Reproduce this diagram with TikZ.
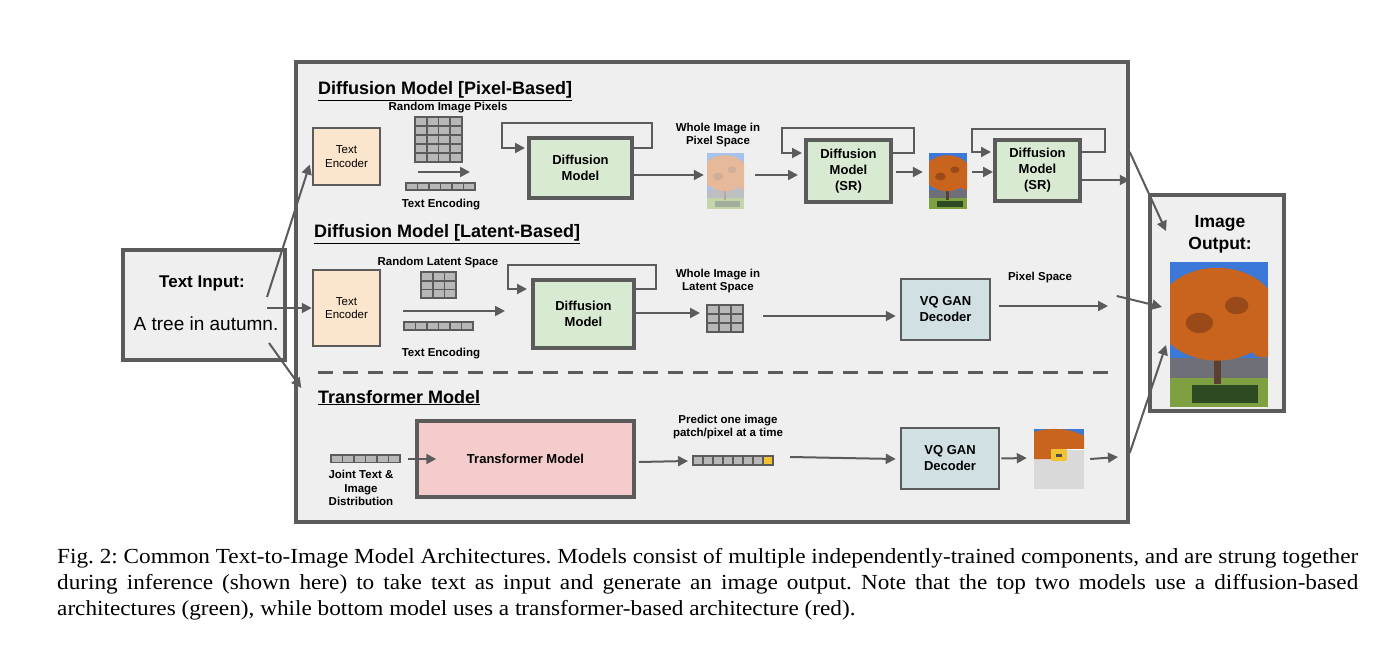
\documentclass[tikz,border=0pt]{standalone}
\usepackage{fontspec}
\setmainfont{Liberation Sans}
\newfontfamily\capfont[FakeStretch=1.08]{Liberation Serif}
\usetikzlibrary{arrows.meta,positioning}
\definecolor{edge}{HTML}{5B5B5B}
\definecolor{bgfill}{HTML}{EFEFEF}
\definecolor{peach}{HTML}{FCE5CD}
\definecolor{mintgreen}{HTML}{D9EAD3}
\definecolor{vqblue}{HTML}{D0E0E3}
\definecolor{rosered}{HTML}{F4CCCC}
\definecolor{cellgray}{HTML}{B7B7B7}
\definecolor{tokyellow}{HTML}{F1C232}
\definecolor{patchgray}{HTML}{D9D9D9}
\definecolor{skyblue}{HTML}{3C78D8}
\definecolor{leaforange}{HTML}{C8641E}
\definecolor{leafdark}{HTML}{9A4A18}
\definecolor{trunkbrown}{HTML}{5A4030}
\definecolor{roadgray}{HTML}{6F7077}
\definecolor{grassgreen}{HTML}{7FA040}
\definecolor{hedgegreen}{HTML}{2E4A22}

% grid of cells: x, y, cols, rows, cell w, cell h
\newcommand{\cellgrid}[6]{%
  \foreach \i in {1,...,#3}{\foreach \j in {1,...,#4}{%
    \filldraw[fill=cellgray, draw=edge, line width=1.6pt]
      ({#1+(\i-1)*#5},{#2+(\j-1)*#6}) rectangle ++(#5,#6);}}}

% photo of the tree: x, y, w, h, strength
\newcommand{\treepic}[5]{%
  \begin{scope}[shift={(#1,#2)}]
    \clip (0,0) rectangle (#3,#4);
    \fill[skyblue!#5!white] (0,0) rectangle (#3,#4);
    \fill[roadgray!#5!white] (0,{0.66*#4}) rectangle (#3,#4);
    \fill[grassgreen!#5!white] (0,{0.8*#4}) rectangle (#3,#4);
    \fill[trunkbrown!#5!white] ({0.45*#3},{0.5*#4}) rectangle ({0.52*#3},{0.84*#4});
    \fill[leaforange!#5!white] ({0.48*#3},{0.36*#4}) ellipse ({0.62*#3} and {0.32*#4});
    \fill[leaforange!#5!white] ({0.95*#3},{0.6*#4}) ellipse ({0.12*#3} and {0.06*#4});
    \fill[leafdark!#5!white] ({0.3*#3},{0.42*#4}) ellipse ({0.14*#3} and {0.07*#4});
    \fill[leafdark!#5!white] ({0.68*#3},{0.3*#4}) ellipse ({0.12*#3} and {0.06*#4});
    \fill[hedgegreen!#5!white] ({0.22*#3},{0.85*#4}) rectangle ({0.9*#3},{0.97*#4});
  \end{scope}}

\begin{document}
\begin{tikzpicture}[x=1pt, y=-1pt,
    arr/.style={-{Triangle[length=10pt,width=10pt]}, line width=2pt, draw=edge},
    every node/.append style={text=black, inner sep=0pt, align=center},
    lbl/.style={font=\bfseries\fontsize{11.5}{13.5}\selectfont},
    title/.style={anchor=base west, font=\bfseries\fontsize{18}{20}\selectfont},
    model/.style={draw=edge, line width=4pt, fill=mintgreen, font=\bfseries\fontsize{13}{16}\selectfont}]
  \tikzstyle{enc} = [draw=edge, line width=2.5pt, fill=peach, minimum width=67, font=\fontsize{11.5}{13.5}\selectfont]
  \tikzstyle{vq} = [draw=edge, line width=2.5pt, fill=vqblue, font=\bfseries\fontsize{13}{16}\selectfont]
  \useasboundingbox[fill=white] (0,0) rectangle (1396,652);

  % outer frames
  \node (frame) [draw=edge, line width=3.5pt, fill=bgfill, minimum width=832, minimum height=460] at (712,292) {};
  \node (textIn) [draw=edge, line width=4pt, fill=bgfill, minimum width=162, minimum height=110] at (204,305) {};
  \node (inTitle) [anchor=base, font=\bfseries\fontsize{17}{19}\selectfont] at (202,287) {Text Input:};
  \node (inText) [anchor=base, font=\fontsize{19}{21}\selectfont] at (206,330) {A tree in autumn.};
  \node (imgOut) [draw=edge, line width=4pt, fill=bgfill, minimum width=134, minimum height=216] at (1217,303) {};
  \node (outTitle) [anchor=base, font=\bfseries\fontsize{17.5}{21}\selectfont] at (1220,249) {Image\\Output:};
  \treepic{1170}{262}{98}{145}{100}

  % pixel-based diffusion
  \node (pixTitle) [title] at (318,95) {\underline{Diffusion Model [Pixel-Based]}};
  \node (encPix) [enc, minimum height=57] at (346.5,156.5) {Text\\Encoder};
  \node (rndPix) [lbl] at (448,108) {Random Image Pixels};
  \cellgrid{415}{117}{4}{5}{11.75}{9}
  \cellgrid{406}{183}{6}{1}{11.5}{7}
  \node (encPixLbl) [lbl] at (441,205) {Text Encoding};
  \node (diffPix) [model, minimum width=103, minimum height=60] at (580.5,168) {Diffusion\\Model};
  \node (wholePix) [lbl] at (718,135) {Whole Image in\\Pixel Space};
  \node (imgA) [minimum width=37, minimum height=56] at (725.5,181) {};
  \treepic{707}{153}{37}{56}{45}
  \node (srOne) [model, minimum width=85, minimum height=62] at (848.5,171) {Diffusion\\Model\\(SR)};
  \node (imgB) [minimum width=38, minimum height=56] at (948,181) {};
  \treepic{929}{153}{38}{56}{100}
  \node (srTwo) [model, minimum width=85, minimum height=61] at (1037.5,170.5) {Diffusion\\Model\\(SR)};
  \coordinate (pixIn) at (418,172);
  \coordinate (pixOut) at (470,172);

  % latent-based diffusion
  \node (latTitle) [title] at (314,238) {\underline{Diffusion Model [Latent-Based]}};
  \node (encLat) [enc, minimum height=76] at (346.5,308) {Text\\Encoder};
  \node (rndLat) [lbl] at (438,263) {Random Latent Space};
  \cellgrid{421}{272}{3}{3}{11.7}{8.7}
  \cellgrid{404}{322}{6}{1}{11.5}{8}
  \node (encLatLbl) [lbl] at (441,354) {Text Encoding};
  \node (diffLat) [model, minimum width=101, minimum height=68] at (583.5,314) {Diffusion\\Model};
  \node (wholeLat) [lbl] at (718,281) {Whole Image in\\Latent Space};
  \cellgrid{707}{305}{3}{3}{12}{9}
  \node (vqLat) [vq, minimum width=89, minimum height=61] at (945.5,309.5) {VQ GAN\\Decoder};
  \node (pixSpace) [lbl] at (1040,278) {Pixel Space};
  \coordinate (latIn) at (403,311);
  \coordinate (latOut) at (505,311);
  \coordinate (gridLat) at (725,316);
  \coordinate (latEnd) at (1108,306);

  \draw[edge, line width=3pt, dash pattern=on 15pt off 10pt] (318,372) -- (1117,372);

  % transformer
  \node (trTitle) [title] at (318,403) {\underline{Transformer Model}};
  \cellgrid{331}{455}{6}{1}{11.5}{7.5}
  \node (jointLbl) [lbl] at (361,488) {Joint Text \&\\Image\\Distribution};
  \node (trans) [draw=edge, line width=3.5pt, fill=rosered, minimum width=217, minimum height=76,
    font=\bfseries\fontsize{13}{16}\selectfont] at (525.5,459) {Transformer Model};
  \node (predLbl) [lbl] at (728,427) {Predict one image\\patch/pixel at a time};
  \cellgrid{693}{456}{8}{1}{10}{9}
  \filldraw[fill=tokyellow, draw=edge, line width=1.6pt] (763,456) rectangle (773,465);
  \node (vqTr) [vq, minimum width=98, minimum height=61] at (950,458.5) {VQ GAN\\Decoder};
  \node (patch) [minimum width=50, minimum height=60] at (1059,459) {};
  \fill[patchgray] (1034,429) rectangle (1084,489);
  \fill[skyblue] (1034,429) rectangle (1084,449);
  \fill[leaforange] (1034,432) .. controls (1050,427) and (1070,428) .. (1084,436) -- (1084,449) -- (1051,449) -- (1051,459) -- (1034,459) -- cycle;
  \draw[white, line width=1pt] (1067,449) -- (1084,449);
  \fill[tokyellow, rounded corners=2pt] (1051,449) rectangle (1067,461);
  \fill[black!70] (1056,454) rectangle (1062,456.5);
  \coordinate (jointOut) at (408,459);
  \coordinate (predIn) at (688,461);
  \coordinate (predOut) at (790,457);
  \coordinate (trEnd) at (1118,457);

  % connectors from the input
  \draw[arr] ([shift={(-20,-8)}]textIn.east) -- ([shift={(-2,8)}]encPix.west);
  \draw[arr] ([shift={(-20,3)}]textIn.east) -- (encLat.west);
  \draw[arr] ([shift={(-18,38)}]textIn.east) -- ([shift={(7,96)}]frame.west);

  % pixel-based connectors
  \draw[arr] (pixIn) -- (pixOut);
  \draw[arr] ([shift={(0,-20)}]diffPix.east) -- ++(18,0) -- ++(0,-25) -- ++(-150,0) -- ++(0,25) -- ++(23,0);
  \draw[arr] ([shift={(0,7)}]diffPix.east) -- ([shift={(-3,-6)}]imgA.west);
  \draw[arr] ([shift={(11,-6)}]imgA.east) -- ([shift={(-6,4)}]srOne.west);
  \draw[arr] ([shift={(0,-18)}]srOne.east) -- ++(21,0) -- ++(0,-25) -- ++(-132,0) -- ++(0,25) -- ++(20,0);
  \draw[arr] ([shift={(3,1)}]srOne.east) -- ([shift={(-6,-9)}]imgB.west);
  \draw[arr] ([shift={(5,-9)}]imgB.east) -- ([shift={(0,1.5)}]srTwo.west);
  \draw[arr] ([shift={(0,-18.5)}]srTwo.east) -- ++(23,0) -- ++(0,-23) -- ++(-133,0) -- ++(0,23) -- ++(19,0);
  \draw[arr] ([shift={(0,9.5)}]srTwo.east) -- (frame.east |- {0,180});
  \draw[arr] ([shift={(0,-140)}]frame.east) -- ([shift={(18,38)}]imgOut.north west);

  % latent-based connectors
  \draw[arr] (latIn) -- (latOut);
  \draw[arr] ([shift={(0,-25)}]diffLat.east) -- ++(20,0) -- ++(0,-24) -- ++(-148,0) -- ++(0,24) -- ++(19,0);
  \draw[arr] ([shift={(0,-1)}]diffLat.east) -- ([shift={(-25,-3)}]gridLat);
  \draw[arr] ([shift={(38,0)}]gridLat) -- ([shift={(-4,6.5)}]vqLat.west);
  \draw[arr] ([shift={(8,-3.5)}]vqLat.east) -- (latEnd);
  \draw[arr] ([shift={(-13,4)}]frame.east) -- ([shift={(14,4)}]imgOut.west);

  % transformer connectors
  \draw[arr] (jointOut) -- ([shift={(21,0)}]trans.west);
  \draw[arr] ([shift={(3,3)}]trans.east) -- (predIn);
  \draw[arr] (predOut) -- ([shift={(-4,0.5)}]vqTr.west);
  \draw[arr] ([shift={(1,0)}]vqTr.east) -- ([shift={(-7,-1)}]patch.west);
  \draw[arr] ([shift={(6,0)}]patch.east) -- (trEnd);
  \draw[arr] ([shift={(0,161)}]frame.east) -- ([shift={(18,-68)}]imgOut.south west);

  % caption
  \node (caption) [anchor=north west, text width=1301, align=justify, font=\capfont\fontsize{21.5}{26}\selectfont] at (57,548.5)
    {\noindent\frenchspacing Fig. 2: Common Text-to-Image Model Architectures. Models consist of multiple independently-trained components, and are strung together\linebreak
     during inference (shown here) to take text as input and generate an image output. Note that the top two models use a diffusion-based\linebreak
     architectures (green), while bottom model uses a transformer-based architecture (red).};
\end{tikzpicture}
\end{document}
